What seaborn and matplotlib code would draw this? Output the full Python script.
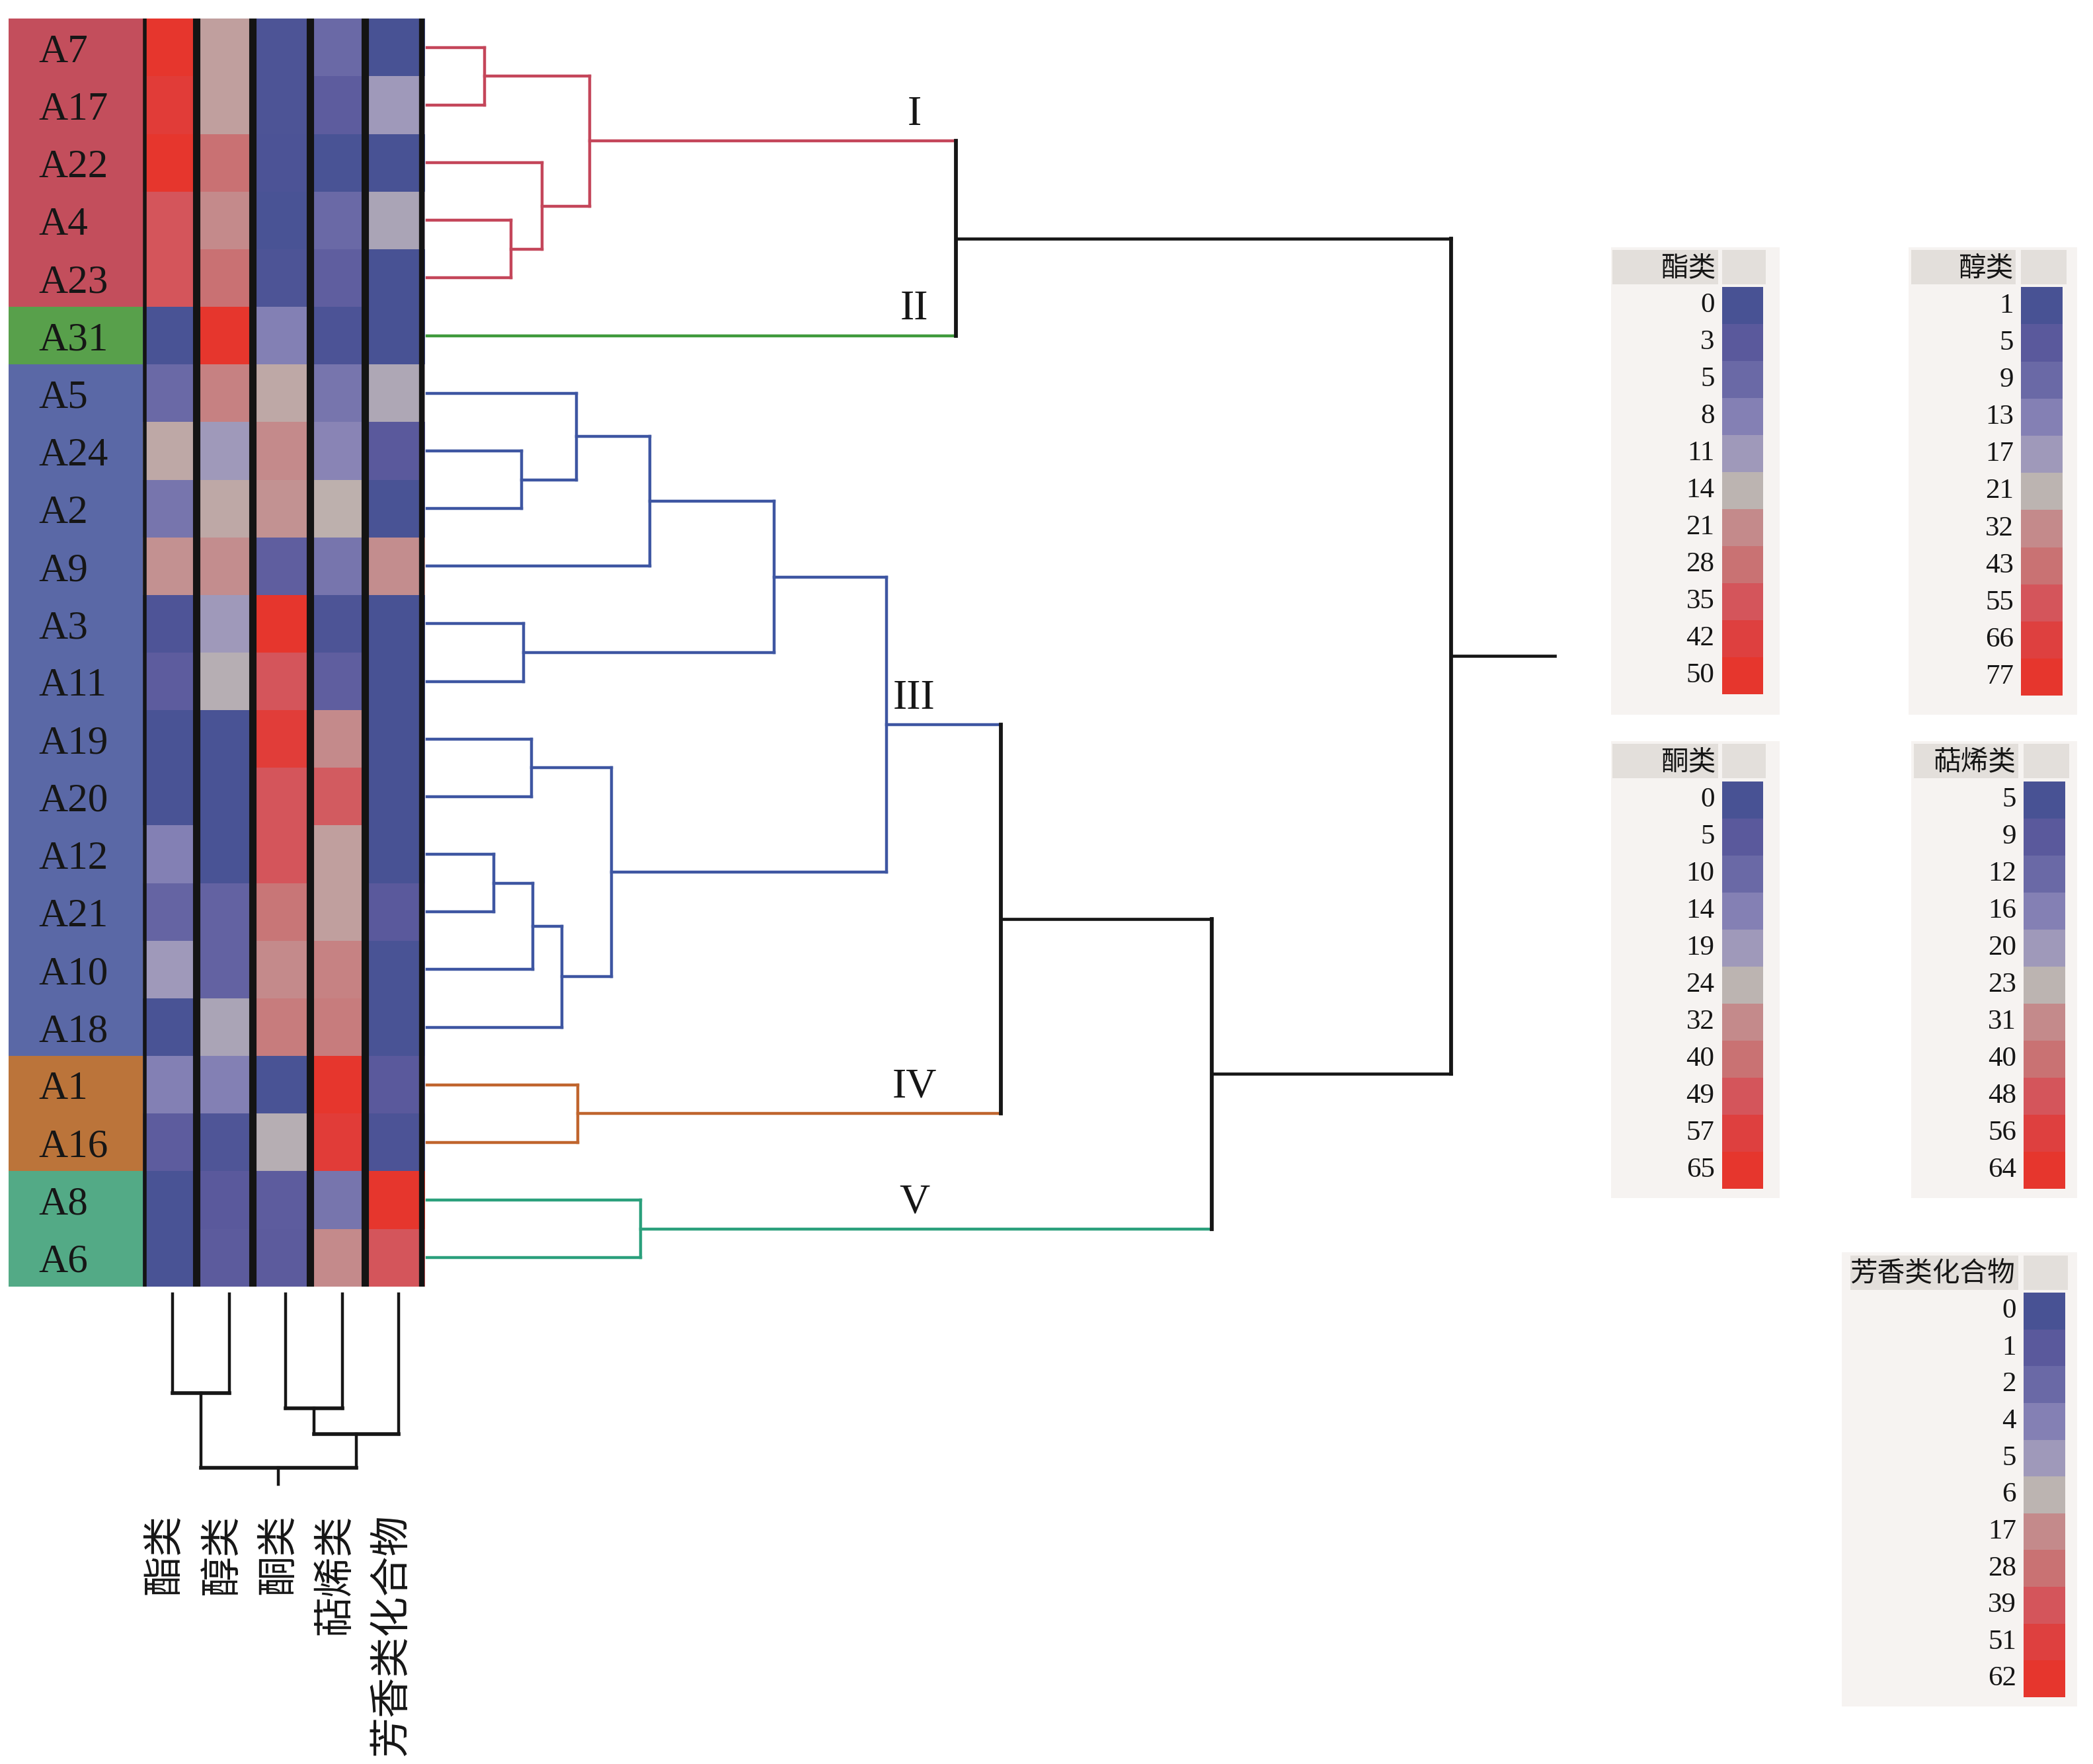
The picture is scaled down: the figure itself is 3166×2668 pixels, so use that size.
import numpy as np
import pandas as pd
import matplotlib
matplotlib.use('Agg')
import matplotlib.pyplot as plt
from matplotlib.colors import ListedColormap, LinearSegmentedColormap
import seaborn as sns

# -----------------------------
# data
# -----------------------------
samples = ['A7', 'A17', 'A22', 'A4', 'A23', 'A31', 'A5', 'A24', 'A2', 'A9', 'A3', 'A11',
           'A19', 'A20', 'A12', 'A21', 'A10', 'A18', 'A1', 'A16', 'A8', 'A6']
clusters = ['I'] * 5 + ['II'] + ['III'] * 12 + ['IV'] * 2 + ['V'] * 2
compounds = ['酯类', '醇类', '酮类', '萜烯类', '芳香类化合物']

ester = [50, 45, 50, 35, 35, 0.3, 5, 16, 6.5, 20, 1, 3.4, 0.3, 0.3, 8, 4.4, 11, 0.3, 8, 3.4, 0.3, 0.3]
alcohol = [26.5, 26.5, 43, 32, 43, 77, 36.4, 17, 24.3, 30.9, 17, 20.2, 1.4, 1.4, 1.4, 7.4, 7.4,
           18.6, 13, 2.6, 5, 5.4]
ketone = [1.5, 1.5, 1, 0.5, 1.5, 14, 26.4, 32, 30.4, 6.5, 65, 49, 59.4, 49, 49, 38.4, 32, 36.8,
          0.5, 23, 6, 5.5]
terpene = [12, 9.6, 5.4, 12, 9.9, 5.8, 14, 16.8, 23.8, 14, 6.2, 9.9, 31, 46.4, 27, 27, 33.7, 36.4,
           64, 59.2, 14, 31]
aromatic = [0, 5, 0, 5.4, 0, 0, 5.5, 1, 0.1, 15.9, 0, 0, 0, 0, 0, 1, 0.1, 0.1, 1, 0.2, 62, 39]

ester_breaks = [0, 3, 5, 8, 11, 14, 21, 28, 35, 42, 50]
alcohol_breaks = [1, 5, 9, 13, 17, 21, 32, 43, 55, 66, 77]
ketone_breaks = [0, 5, 10, 14, 19, 24, 32, 40, 49, 57, 65]
terpene_breaks = [5, 9, 12, 16, 20, 23, 31, 40, 48, 56, 64]
aromatic_breaks = [0, 1, 2, 4, 5, 6, 17, 28, 39, 51, 62]

# row tree: (left, right, merge distance); new nodes are n0, n1, ...
row_merges = [
    ('A7', 'A17', 43), ('A4', 'A23', 63), ('A22', 'n1', 86), ('n0', 'n2', 122),
    ('n3', 'A31', 396),
    ('A24', 'A2', 71), ('A5', 'n5', 112), ('n6', 'A9', 167), ('A3', 'A11', 72),
    ('n7', 'n8', 260), ('A19', 'A20', 78), ('A12', 'A21', 50), ('n11', 'A10', 79),
    ('n12', 'A18', 101), ('n10', 'n13', 138), ('n9', 'n14', 344),
    ('A1', 'A16', 113), ('n15', 'n16', 430), ('A8', 'A6', 160), ('n17', 'n18', 588),
    ('n4', 'n19', 767),
]
row_root_stub = 845

col_merges = [('酯类', '醇类', 77), ('酮类', '萜烯类', 89), ('n1', '芳香类化合物', 109),
              ('n0', 'n2', 135)]
col_root_stub = 148

cluster_names = ['I', 'II', 'III', 'IV', 'V']
cluster_nodes = ['n3', 'A31', 'n15', 'n16', 'n18']

# -----------------------------
# style
# -----------------------------
step_colors = ['#485294', '#5a599c', '#6a69a6', '#8480b4', '#9f99ba', '#bcb4b1',
               '#c48a8b', '#c97273', '#d4555b', '#de403f', '#e6362d']
block_colors = {'I': '#c34e5c', 'II': '#58a04b', 'III': '#5a68a6', 'IV': '#bb743a', 'V': '#53aa86'}
line_colors = {'I': '#c4465a', 'II': '#3f9a3c', 'III': '#3e56a2', 'IV': '#c0652e', 'V': '#2ba07c'}

sns.set_style('white')
plt.rcParams['font.family'] = ['Liberation Serif', 'Noto Sans CJK SC']

W, H = 1568.0, 1321.0
fig = plt.figure(figsize=(15.83, 13.34), dpi=200)
fig.patch.set_facecolor('white')


def box(x0, y0, x1, y1, **kw):
    ax = fig.add_axes([x0 / W, 1 - y1 / H, (x1 - x0) / W, (y1 - y0) / H], **kw)
    return ax


def blank(ax):
    ax.set_xticks([])
    ax.set_yticks([])
    for s in ax.spines.values():
        s.set_visible(False)


# -----------------------------
# heatmap (colour position found through each compound's legend scale)
# -----------------------------
values = pd.DataFrame({'酯类': ester, '醇类': alcohol, '酮类': ketone,
                       '萜烯类': terpene, '芳香类化合物': aromatic}, index=samples)
breaks = {'酯类': ester_breaks, '醇类': alcohol_breaks, '酮类': ketone_breaks,
          '萜烯类': terpene_breaks, '芳香类化合物': aromatic_breaks}
levels = values.copy()
for c in compounds:
    levels[c] = np.interp(values[c].values, breaks[c], np.arange(len(breaks[c])))

smooth_cmap = LinearSegmentedColormap.from_list('bluered', step_colors)
step_cmap = ListedColormap(step_colors)

HM_TOP, HM_BOT = 14.0, 963.4
ax_hm = box(107, HM_TOP, 318.5, HM_BOT)
sns.heatmap(levels, cmap=smooth_cmap, vmin=0, vmax=10, cbar=False,
            xticklabels=False, yticklabels=False, ax=ax_hm)
for xv, lw in zip([0.03, 0.95, 1.94, 2.96, 3.93, 4.94], [2.0, 4.0, 4.0, 4.0, 4.0, 3.0]):
    ax_hm.axvline(xv, color='#141414', lw=lw)

# cluster colour block with sample names
ax_lab = box(6.6, HM_TOP, 107, HM_BOT)
cl_idx = pd.DataFrame({'c': [cluster_names.index(c) for c in clusters]}, index=samples)
sns.heatmap(cl_idx, cmap=ListedColormap([block_colors[c] for c in cluster_names]),
            vmin=-0.5, vmax=4.5, cbar=False, xticklabels=False, yticklabels=False, ax=ax_lab)
for i, s in enumerate(samples):
    ax_lab.text(0.22, i + 0.58, s, ha='left', va='center', fontsize=22, color='#161616')


# -----------------------------
# dendrograms
# -----------------------------
def draw_tree(ax, merges, leaves, leaf_pos, leaf_group, orient, stub, lw_c, lw_k):
    pos = dict(zip(leaves, leaf_pos))
    hgt = {l: 0 for l in leaves}
    grp = dict(zip(leaves, leaf_group))

    def seg(h0, h1, p0, p1, col, lw):
        if orient == 'right':
            ax.plot([h0, h1], [p0, p1], color=col, lw=lw, solid_capstyle='projecting')
        else:
            ax.plot([p0, p1], [h0, h1], color=col, lw=lw, solid_capstyle='projecting')

    def col_of(n):
        return line_colors[grp[n]] if grp[n] in line_colors else '#161616'

    for i, (a, b, h) in enumerate(merges):
        n = f'n{i}'
        grp[n] = grp[a] if grp[a] == grp[b] else None
        for ch in (a, b):
            c = col_of(ch)
            seg(hgt[ch], h, pos[ch], pos[ch], c, lw_c if c != '#161616' else lw_k * 0.8)
        c = col_of(n)
        seg(h, h, pos[a], pos[b], c, lw_c if c != '#161616' else lw_k)
        pos[n] = (pos[a] + pos[b]) / 2
        hgt[n] = h
    root = f'n{len(merges) - 1}'
    seg(hgt[root], stub, pos[root], pos[root], '#161616', lw_k * 0.8)
    return pos


ax_rd = box(318, HM_TOP, 1170, HM_BOT)
rpos = draw_tree(ax_rd, row_merges, samples, np.arange(len(samples)) + 0.5, clusters,
                 'right', row_root_stub, 1.6, 2.1)
ax_rd.set_xlim(-2, 850)
ax_rd.set_ylim(len(samples), 0)
ax_rd.axis('off')
for name, node in zip(cluster_names, cluster_nodes):
    ax_rd.text(365, rpos[node] - 0.12, name, ha='center', va='bottom', fontsize=23, color='#161616')

ax_cd = box(107, HM_BOT, 318.5, HM_BOT + 152)
draw_tree(ax_cd, col_merges, compounds, np.arange(len(compounds)) + 0.53, [None] * 5,
          'down', col_root_stub, 2.0, 2.0)
ax_cd.set_xlim(0, len(compounds))
ax_cd.set_ylim(152, -6)
ax_cd.axis('off')
for j, c in enumerate(compounds):
    ax_cd.text(j + 0.42, 171, c, rotation=90, ha='center', va='top', fontsize=22, color='#161616')

# -----------------------------
# legends
# -----------------------------
legend_boxes = [
    ('酯类', (1207, 185, 1333, 535), (1208, 187, 1287, 213), (1290, 187, 1323, 213), (1290, 215, 1321, 520)),
    ('醇类', (1430, 185, 1556, 535), (1432, 187, 1510, 213), (1514, 187, 1548, 213), (1514, 215, 1545, 521)),
    ('酮类', (1207, 555, 1333, 897), (1208, 557, 1287, 583), (1290, 557, 1323, 583), (1290, 585, 1321, 890)),
    ('萜烯类', (1432, 555, 1556, 897), (1434, 557, 1512, 583), (1516, 557, 1550, 583), (1516, 585, 1547, 890)),
    ('芳香类化合物', (1380, 938, 1556, 1278), (1386, 940, 1512, 966), (1516, 940, 1549, 966), (1516, 968, 1547, 1271)),
]
for name, panel, head, small, bar in legend_boxes:
    axp = box(*panel, facecolor='#f6f3f1')
    blank(axp)
    axh = box(*head, facecolor='#e3dfdb')
    blank(axh)
    axh.text(0.98, 0.45, name, transform=axh.transAxes, ha='right', va='center',
             fontsize=15, color='#161616')
    axs = box(*small, facecolor='#e3dfdb')
    blank(axs)
    axb = box(*bar)
    sns.heatmap(np.arange(11).reshape(-1, 1), cmap=step_cmap, vmin=-0.5, vmax=10.5, cbar=False,
                xticklabels=False, yticklabels=breaks[name], ax=axb)
    axb.tick_params(axis='y', length=0, pad=4, labelsize=15.5, labelrotation=0, labelcolor='#161616')

fig.savefig('out.png', dpi=200)
